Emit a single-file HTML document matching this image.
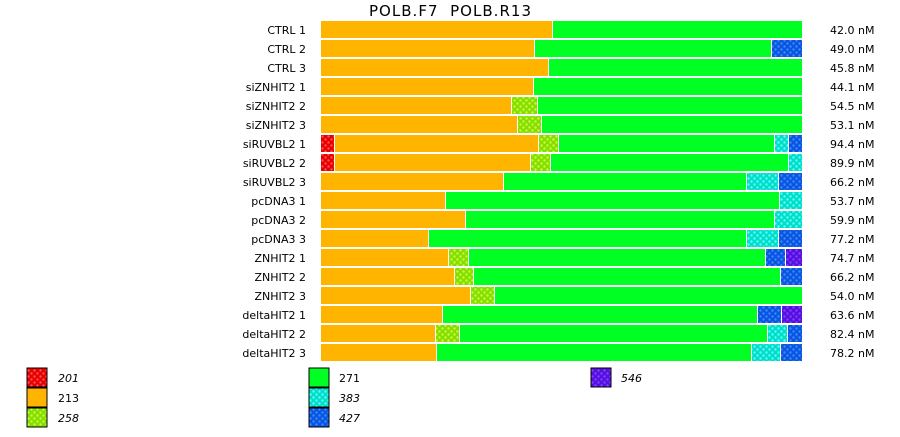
<!DOCTYPE html>
<html><head><meta charset="utf-8"><style>body{margin:0;background:#fff}</style></head><body>
<svg width="900" height="432" xmlns="http://www.w3.org/2000/svg" font-family="DejaVu Sans, Liberation Sans, sans-serif">
<defs>
<pattern id="pr" width="6" height="6" patternUnits="userSpaceOnUse"><rect width="6" height="6" fill="#e60000"/><circle cx="1.5" cy="1.5" r="1.2" fill="#ff5050"/><circle cx="4.5" cy="4.5" r="1.2" fill="#ff5050"/></pattern>
<pattern id="pl" width="6" height="6" patternUnits="userSpaceOnUse"><rect width="6" height="6" fill="#88dd00"/><circle cx="1.5" cy="1.5" r="1.2" fill="#c0ff40"/><circle cx="4.5" cy="4.5" r="1.2" fill="#c0ff40"/></pattern>
<pattern id="pc" width="6" height="6" patternUnits="userSpaceOnUse"><rect width="6" height="6" fill="#00ddcc"/><circle cx="1.5" cy="1.5" r="1.2" fill="#60fff0"/><circle cx="4.5" cy="4.5" r="1.2" fill="#60fff0"/></pattern>
<pattern id="pb" width="6" height="6" patternUnits="userSpaceOnUse"><rect width="6" height="6" fill="#0a55e0"/><circle cx="1.5" cy="1.5" r="1.2" fill="#3a8aff"/><circle cx="4.5" cy="4.5" r="1.2" fill="#3a8aff"/></pattern>
<pattern id="pp" width="6" height="6" patternUnits="userSpaceOnUse"><rect width="6" height="6" fill="#5510e0"/><circle cx="1.5" cy="1.5" r="1.2" fill="#8040ff"/><circle cx="4.5" cy="4.5" r="1.2" fill="#8040ff"/></pattern>
</defs>
<text x="450" y="16" font-size="15" text-anchor="middle" textLength="162" lengthAdjust="spacing" xml:space="preserve">POLB.F7  POLB.R13</text>
<g id="bars"></g>
<g font-size="11">
<rect x="27" y="368" width="20" height="19" fill="url(#pr)" stroke="#000"/><text x="58" y="382" font-style="italic">201</text>
<rect x="27" y="388" width="20" height="19" fill="#ffb400" stroke="#000"/><text x="58" y="402">213</text>
<rect x="27" y="408" width="20" height="19" fill="url(#pl)" stroke="#000"/><text x="58" y="422" font-style="italic">258</text>
<rect x="309" y="368" width="20" height="19" fill="#00ff22" stroke="#000"/><text x="339" y="382">271</text>
<rect x="309" y="388" width="20" height="19" fill="url(#pc)" stroke="#000"/><text x="339" y="402" font-style="italic">383</text>
<rect x="309" y="408" width="20" height="19" fill="url(#pb)" stroke="#000"/><text x="339" y="422" font-style="italic">427</text>
<rect x="591" y="368" width="20" height="19" fill="url(#pp)" stroke="#000"/><text x="621" y="382" font-style="italic">546</text>
</g>
</svg>
<script>
const C={o:'#ffb400',g:'#00ff22',r:'url(#pr)',l:'url(#pl)',c:'url(#pc)',b:'url(#pb)',p:'url(#pp)'};
const rows=[
["CTRL 1","42.0 nM",[['o',321,551],['g',553,801]]],
["CTRL 2","49.0 nM",[['o',321,533],['g',535,770],['b',772,801]]],
["CTRL 3","45.8 nM",[['o',321,547],['g',549,801]]],
["siZNHIT2 1","44.1 nM",[['o',321,532],['g',534,801]]],
["siZNHIT2 2","54.5 nM",[['o',321,510],['l',512,536],['g',538,801]]],
["siZNHIT2 3","53.1 nM",[['o',321,516],['l',518,540],['g',542,801]]],
["siRUVBL2 1","94.4 nM",[['r',321,333],['o',335,537],['l',539,557],['g',559,773],['c',775,787],['b',789,801]]],
["siRUVBL2 2","89.9 nM",[['r',321,333],['o',335,529],['l',531,549],['g',551,787],['c',789,801]]],
["siRUVBL2 3","66.2 nM",[['o',321,502],['g',504,745],['c',747,777],['b',779,801]]],
["pcDNA3 1","53.7 nM",[['o',321,444],['g',446,778],['c',780,801]]],
["pcDNA3 2","59.9 nM",[['o',321,464],['g',466,773],['c',775,801]]],
["pcDNA3 3","77.2 nM",[['o',321,427],['g',429,745],['c',747,777],['b',779,801]]],
["ZNHIT2 1","74.7 nM",[['o',321,447],['l',449,467],['g',469,764],['b',766,784],['p',786,801]]],
["ZNHIT2 2","66.2 nM",[['o',321,453],['l',455,472],['g',474,779],['b',781,801]]],
["ZNHIT2 3","54.0 nM",[['o',321,469],['l',471,493],['g',495,801]]],
["deltaHIT2 1","63.6 nM",[['o',321,441],['g',443,756],['b',758,780],['p',782,801]]],
["deltaHIT2 2","82.4 nM",[['o',321,434],['l',436,458],['g',460,766],['c',768,786],['b',788,801]]],
["deltaHIT2 3","78.2 nM",[['o',321,435],['g',437,750],['c',752,779],['b',781,801]]]];
let s='';
rows.forEach((r,i)=>{const y=21+19*i;
s+=`<text x="306" y="${y+13}" font-size="11" text-anchor="end">${r[0]}</text><text x="830" y="${y+13}" font-size="11">${r[1]}</text>`;
r[2].forEach(g=>{s+=`<rect x="${g[1]}" y="${y}" width="${g[2]-g[1]+1}" height="17" fill="${C[g[0]]}"/>`;});});
document.getElementById('bars').innerHTML=s;
</script>
</body></html>
